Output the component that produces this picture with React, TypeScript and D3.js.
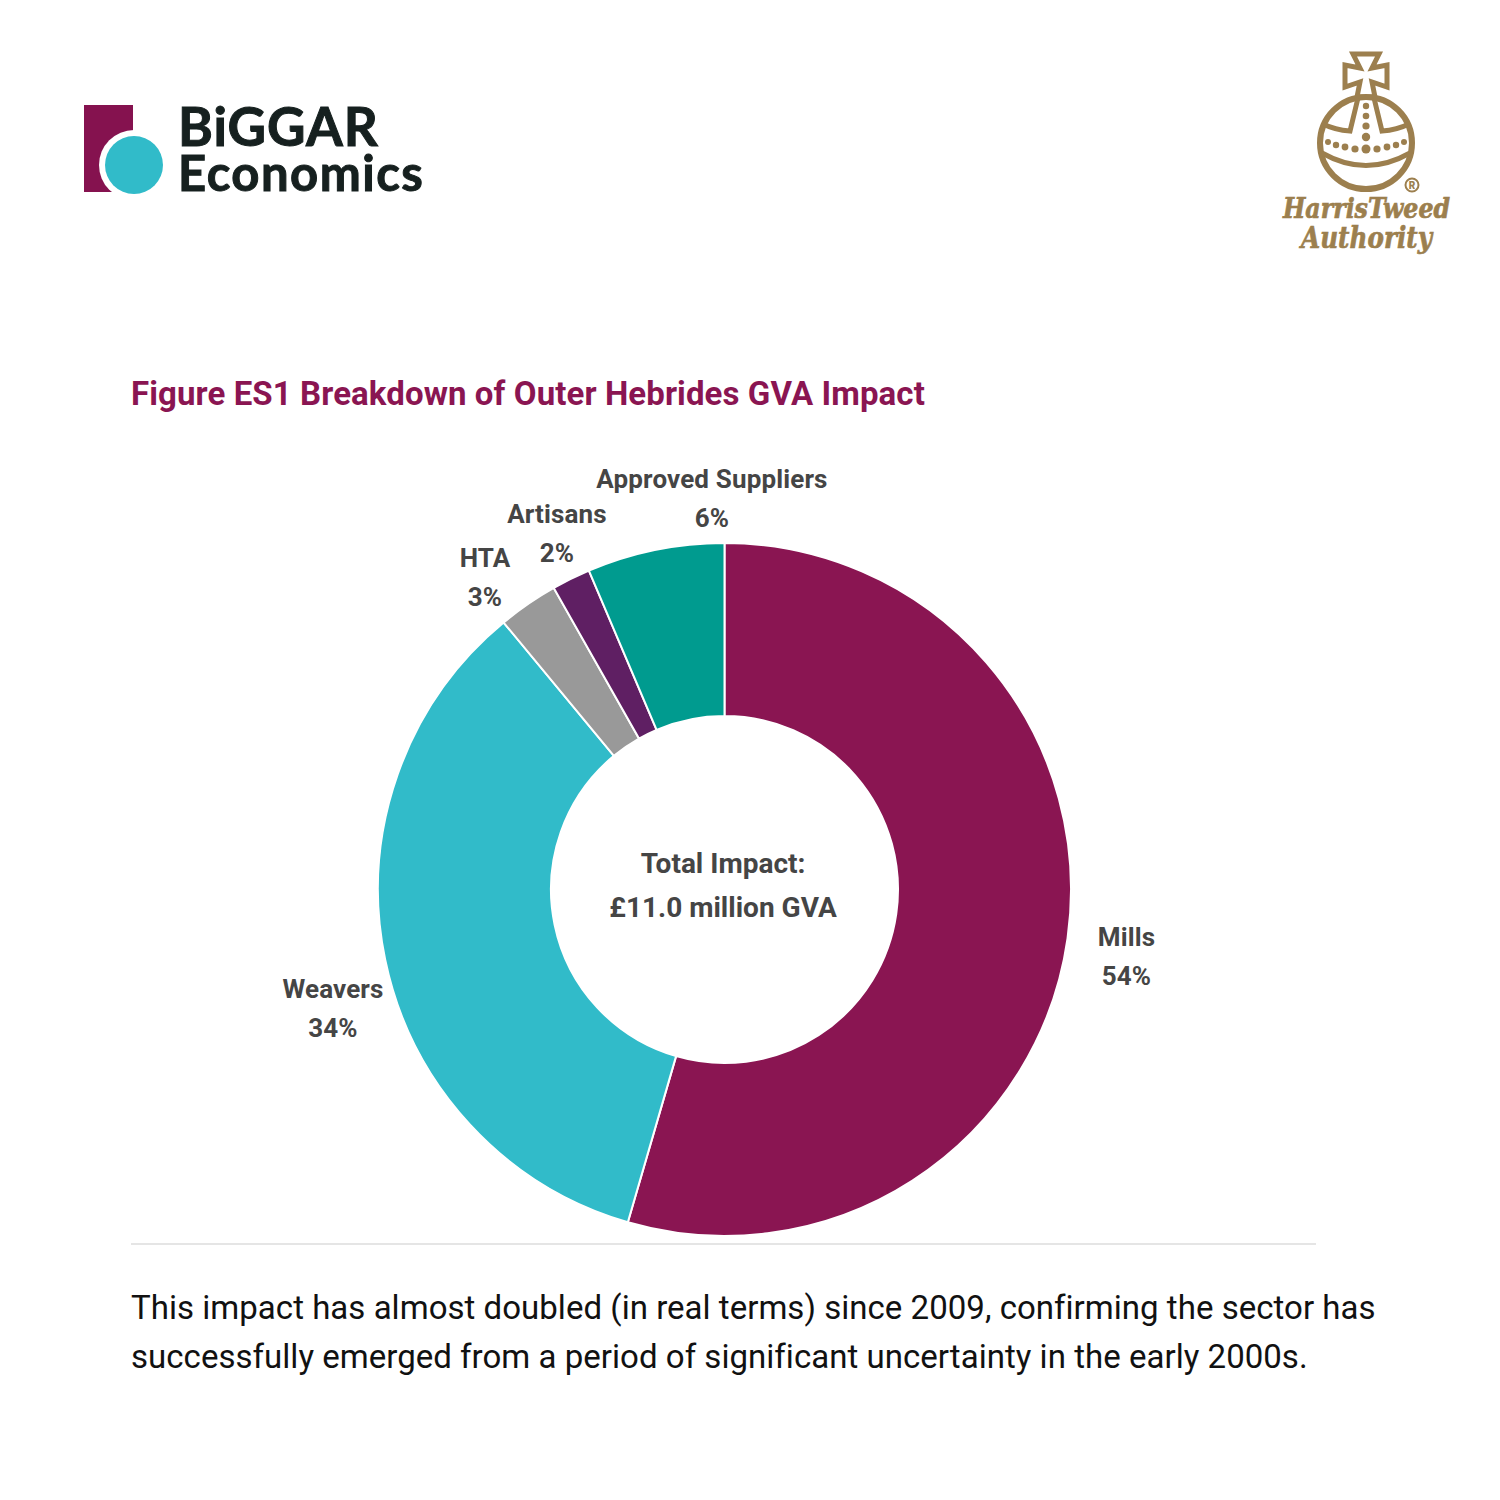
import * as d3 from "d3";

const categories = ["Mills", "Weavers", "HTA", "Artisans", "Approved Suppliers"];
const shares = [54.5, 34.5, 2.8, 1.8, 6.4];
const shareLabels = ["54%", "34%", "3%", "2%", "6%"];
const colors = ["#8a1552", "#31bbc9", "#999999", "#5f1f63", "#009b8f"];
// label anchor positions around the ring, [name x, name baseline]
const labelPos: [number, number][] = [
  [1126.5, 946],
  [333, 998],
  [485, 567],
  [557, 523],
  [712, 488],
];
const pctOffset = 39;

const centerLines = ["Total Impact:", "£11.0 million GVA"];
const title = "Figure ES1 Breakdown of Outer Hebrides GVA Impact";
const bodyLines = [
  "This impact has almost doubled (in real terms) since 2009, confirming the sector has",
  "successfully emerged from a period of significant uncertainty in the early 2000s.",
];
const orbDotsBand: [number, number, number][] = [
  [1328, 142, 3], [1336, 145, 3.2], [1345, 147, 3.4], [1355, 149, 3.6], [1366, 149, 4.5],
  [1377, 149, 3.6], [1387, 147, 3.4], [1396, 145, 3.2], [1404, 142, 3],
];
const orbDotsColumn: [number, number, number][] = [
  [1366, 106, 3.2], [1366, 116, 3.3], [1366, 126, 3.6], [1366, 137, 4.2],
];

const gold = "#9c7f4e";
const labelColor = "#454545";

function Logos() {
  return (
    <g>
      <rect x={84} y={105} width={49} height={87} fill="#85124f" />
      <circle cx={134} cy={165} r={35} fill="#fff" />
      <rect x={133} y={100} width={50} height={100} fill="#fff" />
      <circle cx={134} cy={165} r={29} fill="#31bbc9" />
      <g fontFamily="Lato" fontWeight={700} fill="#16201f">
        <text x={178} y={146} fontSize={53} letterSpacing={1} stroke="#16201f" strokeWidth={1}>BiGGAR</text>
        <text x={178} y={191} fontSize={49} letterSpacing={1.5} stroke="#16201f" strokeWidth={1}>Economics</text>
      </g>

      <g fill="none" stroke={gold} strokeWidth={6}>
        <circle cx={1366} cy={143} r={46} />
        <path d="M1353,54 L1379,54 L1372,68 L1387,65 L1387,87 L1372,82 L1375,97 L1357,97 L1360,82 L1345,87 L1345,65 L1360,68 Z" strokeWidth={5} />
        <path d="M1358,98 L1350,131 Q1335,130 1323,124" strokeWidth={5} />
        <path d="M1374,98 L1382,131 Q1397,130 1409,124" strokeWidth={5} />
        <path d="M1322,153 Q1366,178 1410,153" strokeWidth={5} />
      </g>
      {orbDotsBand.concat(orbDotsColumn).map(([x, y, r], i) => (
        <circle key={i} cx={x} cy={y} r={r} fill={gold} />
      ))}
      <circle cx={1412} cy={185} r={6.5} fill="none" stroke={gold} strokeWidth={2} />
      <text x={1412} y={189} fontSize={10} fontWeight={900} fontFamily="Roboto" textAnchor="middle" fill={gold}>R</text>
      <g fontFamily="'DejaVu Serif'" fontStyle="italic" fontWeight={700} fill={gold} stroke={gold} strokeWidth={0.7} textAnchor="start">
        <text x={1283} y={218} fontSize={27} textLength={167} lengthAdjust="spacingAndGlyphs">HarrisTweed</text>
        <text x={1301} y={248} fontSize={29} textLength={131} lengthAdjust="spacingAndGlyphs">Authority</text>
      </g>
    </g>
  );
}

export default function App() {
  const cx = 724.5;
  const cy = 889.5;
  const pie = d3.pie<number>().sort(null).value((d) => d);
  const arcs = pie(shares);
  const arc = d3.arc<d3.PieArcDatum<number>>().innerRadius(173.5).outerRadius(346.5);

  return (
    <svg
      width={1500}
      height={1500}
      viewBox="0 0 1500 1500"
      style={{ position: "absolute", left: 0, top: 0, background: "#fff" }}
      fontFamily="Roboto"
    >
      <Logos />
      <text x={131} y={405} fontSize={33} fontWeight={700} letterSpacing={0.1} fill="#8a1552">{title}</text>

      <g transform={`translate(${cx},${cy})`}>
        {arcs.map((a, i) => (
          <path key={categories[i]} d={arc(a) ?? ""} fill={colors[i]} stroke="#fff" strokeWidth={2} />
        ))}
      </g>

      {categories.map((name, i) => (
        <g key={name} fontSize={26} fontWeight={700} letterSpacing={0.15} fill={labelColor} textAnchor="middle">
          <text x={labelPos[i][0]} y={labelPos[i][1]}>{name}</text>
          <text x={labelPos[i][0]} y={labelPos[i][1] + pctOffset}>{shareLabels[i]}</text>
        </g>
      ))}

      <g fontSize={28} fontWeight={700} fill={labelColor} textAnchor="middle">
        <text x={723} y={873}>{centerLines[0]}</text>
        <text x={723} y={917}>{centerLines[1]}</text>
      </g>

      <line x1={131} x2={1316} y1={1244} y2={1244} stroke="#dcdcdc" strokeWidth={1.5} />
      <g fontSize={33} letterSpacing={0.03} fill="#111">
        <text x={131} y={1319}>{bodyLines[0]}</text>
        <text x={131} y={1368}>{bodyLines[1]}</text>
      </g>
    </svg>
  );
}
